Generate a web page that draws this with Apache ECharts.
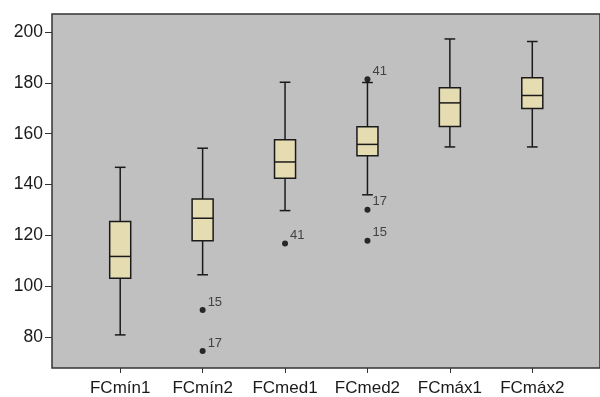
<!DOCTYPE html>
<html><head><meta charset="utf-8">
<script src="https://cdn.jsdelivr.net/npm/echarts@6/dist/echarts.min.js"></script>
<style>html,body{margin:0;padding:0;background:#fff}#c{width:600px;height:397px}</style>
</head><body><div id="c"></div>
<script>
const categories = ['FCmín1','FCmín2','FCmed1','FCmed2','FCmáx1','FCmáx2'];
const whiskerLow = [81, 104.6, 129.8, 136, 154.8, 154.8];
const q1 = [103.2, 118, 142.5, 151.3, 162.8, 169.9];
const median = [111.8, 126.8, 148.9, 155.8, 172.1, 175];
const q3 = [125.5, 134.4, 157.6, 162.7, 178, 182];
const whiskerHigh = [146.8, 154.3, 180.2, 180.1, 197.2, 196.2];
const outlierCategory = ['FCmín2','FCmín2','FCmed1','FCmed2','FCmed2','FCmed2'];
const outlierValue = [90.8, 74.7, 116.9, 181.4, 130.1, 118];
const outlierLabel = ['15','17','41','41','17','15'];
const yTicks = [80,100,120,140,160,180,200];
const yMin = 68, yMax = 207;

const FONT = 'Liberation Sans';
const chart = echarts.init(document.getElementById('c'), null, {renderer:'canvas'});
const boxData = categories.map((c,i)=>[i, whiskerLow[i], q1[i], median[i], q3[i], whiskerHigh[i]]);
const outData = outlierCategory.map((c,i)=>[c, outlierValue[i], outlierLabel[i]]);

chart.setOption({
  animation:false,
  backgroundColor:'#fff',
  grid:[
    {left:52, top:14, right:-5, bottom:29, show:true, backgroundColor:'#c0c0c0', borderColor:'#333', borderWidth:1.5},
    {left:79, right:26.5, top:14, bottom:29}
  ],
  xAxis:[
    {gridIndex:0, type:'value', min:0, max:1, show:false},
    {gridIndex:1, type:'category', data:categories,
     axisLine:{show:false},
     axisTick:{show:true, alignWithLabel:true, interval:0, length:5, lineStyle:{color:'#333', width:1}},
     axisLabel:{interval:0, fontSize:17, color:'#1a1a1a', margin:12, fontFamily:FONT},
     splitLine:{show:false}}
  ],
  yAxis:[
    {gridIndex:0, type:'value', min:yMin, max:yMax,
     axisLine:{show:false},
     axisTick:{show:true, length:7, customValues:yTicks, lineStyle:{color:'#333', width:1}},
     axisLabel:{customValues:yTicks, fontSize:17.5, color:'#1a1a1a', margin:9, fontFamily:FONT},
     splitLine:{show:false}},
    {gridIndex:1, type:'value', min:yMin, max:yMax, show:false, splitLine:{show:false}}
  ],
  series:[
    {type:'custom', xAxisIndex:1, yAxisIndex:1, data:boxData,
     encode:{x:0, y:[1,2,3,4,5]},
     renderItem:function(params, api){
       const x = api.value(0);
       const pLow = api.coord([x, api.value(1)]);
       const pQ1 = api.coord([x, api.value(2)]);
       const pMed = api.coord([x, api.value(3)]);
       const pQ3 = api.coord([x, api.value(4)]);
       const pHigh = api.coord([x, api.value(5)]);
       const band = api.size([1,0])[0];
       const bw = band*0.255, cw = band*0.13;
       const cx = pMed[0];
       const ls = {stroke:'#1a1a1a', lineWidth:1.5};
       return {type:'group', children:[
         {type:'line', shape:{x1:cx, y1:pHigh[1], x2:cx, y2:pQ3[1]}, style:ls},
         {type:'line', shape:{x1:cx, y1:pQ1[1], x2:cx, y2:pLow[1]}, style:ls},
         {type:'line', shape:{x1:cx-cw/2, y1:pHigh[1], x2:cx+cw/2, y2:pHigh[1]}, style:ls},
         {type:'line', shape:{x1:cx-cw/2, y1:pLow[1], x2:cx+cw/2, y2:pLow[1]}, style:ls},
         {type:'rect', shape:{x:cx-bw/2, y:pQ3[1], width:bw, height:pQ1[1]-pQ3[1]},
          style:{fill:'#e6dcb2', stroke:'#1a1a1a', lineWidth:1.5}},
         {type:'line', shape:{x1:cx-bw/2, y1:pMed[1], x2:cx+bw/2, y2:pMed[1]}, style:ls}
       ]};
     }
    },
    {type:'scatter', xAxisIndex:1, yAxisIndex:1, data:outData,
     symbolSize:6, itemStyle:{color:'#000'}, z:5,
     label:{show:true, position:'right', offset:[-3,-8], formatter:p=>p.value[2],
            fontSize:13, color:'#222', fontFamily:FONT}}
  ]
});
</script></body></html>
